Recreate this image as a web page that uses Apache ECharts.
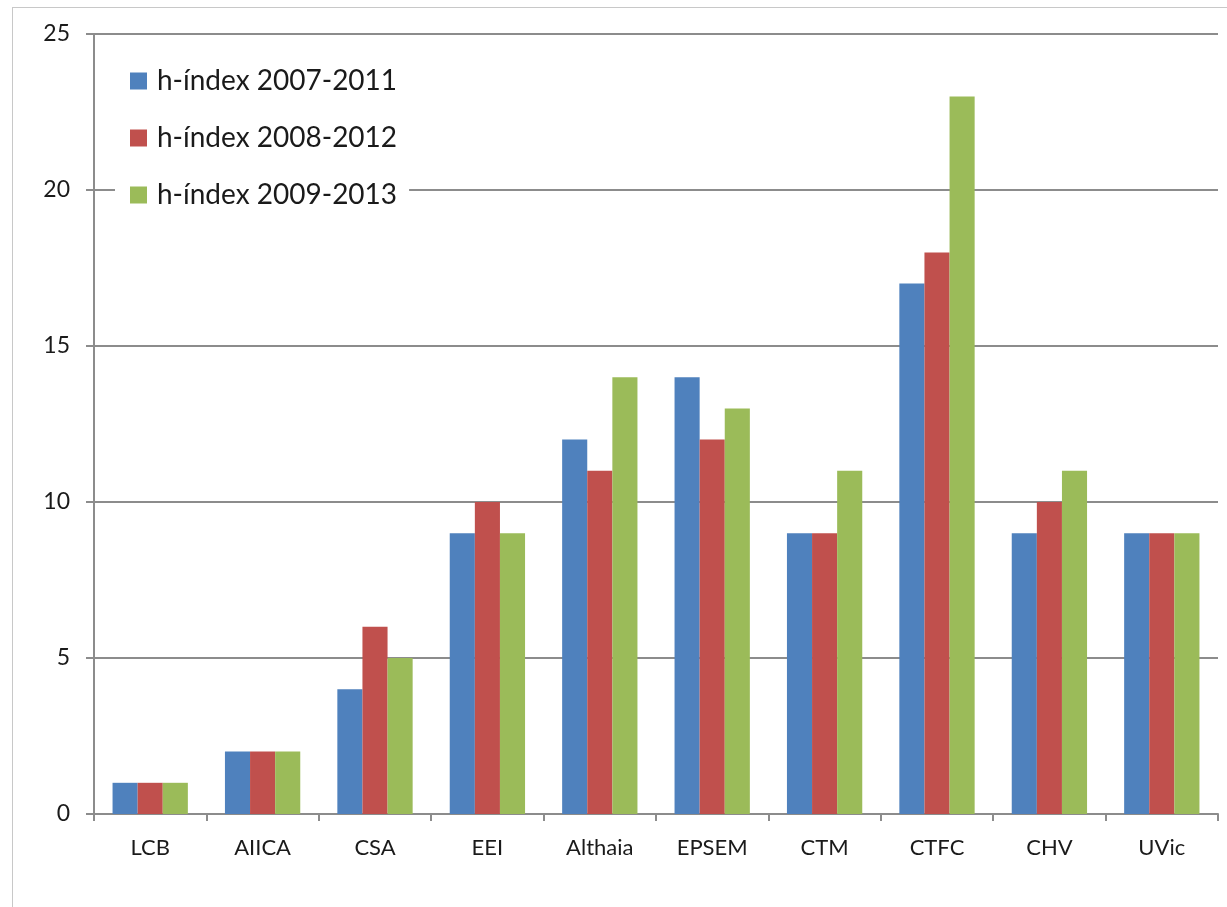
<!DOCTYPE html>
<html>
<head>
<meta charset="utf-8">
<script src="https://cdn.jsdelivr.net/npm/echarts@6/dist/echarts.min.js"></script>
<style>
  html, body { margin: 0; padding: 0; background: #fff; }
  #frame {
    position: absolute; left: 12px; top: 7px; width: 1215px; height: 900px;
    border-left: 1px solid #c8c8c8; border-top: 1px solid #c8c8c8;
  }
  #chart { position: absolute; left: 0; top: 0; width: 1227px; height: 907px; }
</style>
</head>
<body>
<div id="frame"></div>
<div id="chart"></div>
<script>
// centres de recerca
const categories = ["LCB", "AIICA", "CSA", "EEI", "Althaia", "EPSEM", "CTM", "CTFC", "CHV", "UVic"];
const seriesNames = ["h-índex 2007-2011", "h-índex 2008-2012", "h-índex 2009-2013"];
const h2007 = [1, 2, 4, 9, 12, 14, 9, 17, 9, 9];
const h2008 = [1, 2, 6, 10, 11, 12, 9, 18, 10, 9];
const h2009 = [1, 2, 5, 9, 14, 13, 11, 23, 11, 9];
const colors = ["#4f81bd", "#c0504d", "#9bbb59"];

const font = "Lato, 'Open Sans', sans-serif";
const chart = echarts.init(document.getElementById("chart"));

function bar(name, data, color) {
  return {
    name: name,
    type: "bar",
    data: data,
    barGap: "0%",
    barCategoryGap: "33%",
    itemStyle: { color: color },
    z: 2
  };
}

chart.setOption({
  animation: false,
  grid: { left: 94, right: 9, top: 34, bottom: 93 },
  legend: {
    orient: "vertical",
    left: 115,
    top: 61,
    padding: [6, 12, 6, 15],
    backgroundColor: "#fff",
    itemWidth: 17,
    itemHeight: 17,
    itemGap: 29,
    icon: "rect",
    z: 10,
    textStyle: {
      fontFamily: font,
      fontSize: 28,
      lineHeight: 26,
      color: "#1a1a1a",
      padding: [0, 0, 0, 5]
    },
    data: seriesNames
  },
  xAxis: {
    type: "category",
    data: categories,
    axisLine: { lineStyle: { color: "#8c8c8c", width: 2 } },
    axisTick: { show: true, length: 7, lineStyle: { color: "#8c8c8c", width: 2 } },
    axisLabel: { fontFamily: font, fontSize: 22, color: "#1a1a1a", margin: 23 }
  },
  yAxis: {
    type: "value",
    min: 0,
    max: 25,
    interval: 5,
    axisLine: { show: true, lineStyle: { color: "#8c8c8c", width: 2 } },
    axisTick: { show: true, length: 8, lineStyle: { color: "#8c8c8c", width: 2 } },
    axisLabel: { fontFamily: font, fontSize: 23, color: "#1a1a1a", margin: 24 },
    splitLine: { lineStyle: { color: "#8c8c8c", width: 2 } }
  },
  series: [
    bar(seriesNames[0], h2007, colors[0]),
    bar(seriesNames[1], h2008, colors[1]),
    bar(seriesNames[2], h2009, colors[2])
  ]
});
</script>
</body>
</html>
